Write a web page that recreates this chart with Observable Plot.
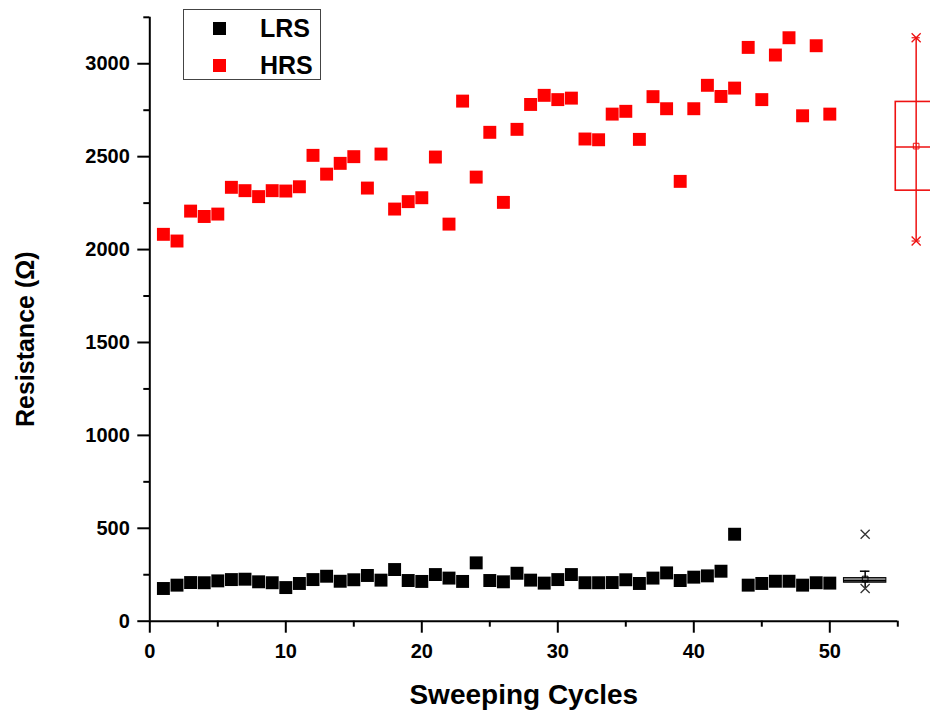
<!DOCTYPE html>
<html>
<head>
<meta charset="utf-8">
<script src="https://cdn.jsdelivr.net/npm/d3@7"></script>
<script src="https://cdn.jsdelivr.net/npm/@observablehq/plot@0.6"></script>
<style>
  html, body { margin: 0; padding: 0; background: #fff; }
  #wrap { position: relative; width: 930px; height: 716px; overflow: hidden; }
  #legend { position: absolute; left: 183px; top: 9px; width: 138px; height: 71px; box-sizing: border-box;
            border: 1px solid #444; background: #fff;
            font-family: "Liberation Sans", Arial, sans-serif; font-weight: bold; font-size: 25px; color: #000; }
  #legend .sw { position: absolute; width: 13px; height: 13px; }
  #legend .lb { position: absolute; height: 30px; line-height: 30px; white-space: nowrap; }
</style>
</head>
<body>
<div id="wrap"><div id="chart"></div><div id="legend"></div></div>
<script>
// ---- data ----
const cycles = [1,2,3,4,5,6,7,8,9,10,11,12,13,14,15,16,17,18,19,20,21,22,23,24,25,
                26,27,28,29,30,31,32,33,34,35,36,37,38,39,40,41,42,43,44,45,46,47,48,49,50];
const lrsValues = [176,194,208,207,217,224,226,212,207,181,203,224,242,215,223,246,221,278,219,214,
                   251,232,214,314,219,212,258,221,205,224,251,207,207,208,223,203,232,260,219,237,
                   244,269,468,194,203,215,215,194,207,205];
const hrsValues = [2082,2046,2207,2178,2191,2335,2317,2285,2317,2315,2338,2507,2406,2464,2500,2331,2514,2218,2258,2279,
                   2498,2137,2799,2390,2631,2254,2647,2781,2830,2807,2815,2595,2591,2729,2744,2593,2823,2758,2367,2758,
                   2884,2824,2869,3088,2807,3047,3140,2720,3097,2729];
const seriesNames = ["LRS", "HRS"];
const seriesColors = ["#000000", "#ff0000"];
const xTicks = [0, 10, 20, 30, 40, 50];
const xMinorTicks = [5, 15, 25, 35, 45, 55];
const yTicks = [0, 500, 1000, 1500, 2000, 2500, 3000];
const yMinorTicks = [250, 750, 1250, 1750, 2250, 2750, 3250];
const xLabel = "Sweeping Cycles";
const yLabel = "Resistance (\u03A9)";

// ---- table for the library ----
const points = [
  ...cycles.map((c, i) => ({cycle: c, value: lrsValues[i], series: "LRS"})),
  ...cycles.map((c, i) => ({cycle: c, value: hrsValues[i], series: "HRS"}))
];

function boxStats(vals) {
  const s = vals.slice().sort(d3.ascending);
  const q1 = d3.quantile(s, 0.25), med = d3.quantile(s, 0.5), q3 = d3.quantile(s, 0.75);
  const iqr = q3 - q1;
  const lo = d3.min(s.filter(v => v >= q1 - 1.5 * iqr));
  const hi = d3.max(s.filter(v => v <= q3 + 1.5 * iqr));
  return {q1, med, q3, lo, hi, mean: d3.mean(s), min: s[0], max: s[s.length - 1]};
}

function boxMarks(st, pos, hw, o) {
  const marks = [
    Plot.ruleX([st], {x: () => pos, y1: "lo", y2: "hi", stroke: o.stroke, strokeWidth: 1.5}),
    Plot.rect([st], {x1: () => pos - hw, x2: () => pos + hw, y1: "q1", y2: "q3",
                     fill: o.fill, stroke: o.stroke, strokeWidth: o.boxWidth}),
    Plot.ruleY([st], {y: "med", x1: () => pos - hw, x2: () => pos + hw, stroke: o.stroke, strokeWidth: 1.5}),
    Plot.dot([st], {x: () => pos, y: "mean", symbol: "square", r: 3.2, stroke: o.stroke, fill: "none", strokeWidth: 1}),
    Plot.dot([st.min, st.max], {x: () => pos, y: d => d, symbol: "times", r: 4.2, stroke: o.marker, strokeWidth: 1.3})
  ];
  if (o.endBars) marks.push(Plot.ruleY([st.min, st.max], {y: d => d, x1: () => pos - 0.3, x2: () => pos + 0.3, stroke: o.marker, strokeWidth: 1.2}));
  if (o.cap) marks.push(Plot.ruleY([st.hi], {y: d => d, x1: () => pos - 0.35, x2: () => pos + 0.35, stroke: o.stroke, strokeWidth: 1.5}));
  return marks;
}

const lrsStats = boxStats(lrsValues);
const hrsStats = boxStats(hrsValues);

const font = "'Liberation Sans', Arial, sans-serif";

const chart = Plot.plot({
  width: 930,
  height: 716,
  marginLeft: 149.3,
  marginRight: 32.7,
  marginTop: 16.8,
  marginBottom: 95.3,
  style: {fontFamily: font, fontWeight: "bold", background: "#fff", color: "#000", overflow: "visible"},
  x: {domain: [0, 55]},
  y: {domain: [0, 3250]},
  color: {domain: seriesNames, range: seriesColors},
  marks: [
    Plot.axisX({ticks: xMinorTicks, tickSize: 6, tickFormat: () => "", strokeWidth: 2, label: null}),
    Plot.axisX({ticks: xTicks, tickSize: 12, tickPadding: 11, tickFormat: d => String(d), strokeWidth: 2, fontSize: 20, fontWeight: "bold", label: null}),
    Plot.axisY({ticks: yMinorTicks, tickSize: 6, tickFormat: () => "", strokeWidth: 2, label: null}),
    Plot.axisY({ticks: yTicks, tickSize: 12, tickPadding: 8, tickFormat: d => String(d), strokeWidth: 2, fontSize: 20, fontWeight: "bold", label: null}),
    Plot.ruleY([0], {strokeWidth: 2}),
    Plot.ruleX([0], {strokeWidth: 2}),
    Plot.text([xLabel], {frameAnchor: "bottom", dy: 83, fontSize: 28, fontWeight: "bold", textAnchor: "middle", text: d => d}),
    Plot.text([yLabel], {frameAnchor: "left", dx: -124, dy: 20, rotate: -90, fontSize: 25, fontWeight: "bold", textAnchor: "middle", text: d => d}),
    Plot.dot(points, {x: "cycle", y: "value", fill: "series", symbol: "square", r: 7.3}),
    ...boxMarks(lrsStats, 52.6, 1.56, {stroke: "#000", fill: "#808080", marker: "#333", boxWidth: 1, cap: true}),
    ...boxMarks(hrsStats, 56.35, 1.5, {stroke: "#ee1111", fill: "none", marker: "#ee1111", boxWidth: 1.6, endBars: true})
  ]
});
document.getElementById("chart").appendChild(chart);

// ---- legend (inside the plot, top-left) ----
const legend = document.getElementById("legend");
const rowCenters = [18, 55];
seriesNames.forEach((name, i) => {
  const sw = document.createElement("div");
  sw.className = "sw";
  sw.style.left = "29px";
  sw.style.top = (rowCenters[i] - 6.5) + "px";
  sw.style.background = seriesColors[i];
  legend.appendChild(sw);
  const lb = document.createElement("div");
  lb.className = "lb";
  lb.style.left = "76px";
  lb.style.top = (rowCenters[i] - 15) + "px";
  lb.textContent = name;
  legend.appendChild(lb);
});
</script>
</body>
</html>
